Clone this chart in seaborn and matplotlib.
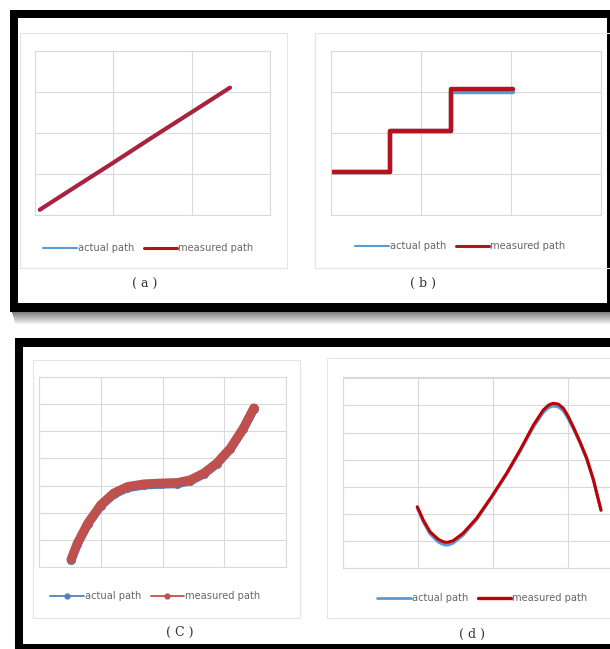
import matplotlib
matplotlib.use("Agg")
import matplotlib.pyplot as plt
from matplotlib.lines import Line2D
from matplotlib.patches import Rectangle
import seaborn as sns

W, H = 610, 649

# (a) straight path
a_x = [0.06, 0.5, 1.0, 1.5, 2.0, 2.49]
a_actual = [0.12, 0.66, 1.27, 1.89, 2.50, 3.10]
a_measured = [0.13, 0.67, 1.28, 1.90, 2.51, 3.11]

# (b) staircase path
b_x = [0.0, 0.66, 0.66, 1.33, 1.33, 2.02]
b_actual = [1.05, 1.05, 2.05, 2.05, 2.99, 2.99]
b_measured = [1.05, 1.05, 2.05, 2.05, 3.07, 3.07]

# (c) cubic-like path
c_x = [-1.48, -1.38, -1.21, -1.00, -0.79, -0.57, -0.30, -0.03, 0.24, 0.45, 0.67, 0.88, 1.10, 1.31, 1.48]
c_actual = [-2.75, -2.16, -1.42, -0.74, -0.32, -0.08, 0.02, 0.05, 0.07, 0.17, 0.43, 0.80, 1.35, 2.09, 2.83]
c_measured = [-2.72, -2.13, -1.39, -0.71, -0.28, -0.04, 0.06, 0.09, 0.11, 0.21, 0.46, 0.83, 1.38, 2.12, 2.86]

# (d) wave path
d_x = [0.99, 1.03, 1.07, 1.16, 1.27, 1.32, 1.36, 1.40, 1.47, 1.60, 1.78, 1.98, 2.18, 2.36,
       2.54, 2.67, 2.74, 2.80, 2.87, 2.94, 3.00, 3.07, 3.16, 3.25, 3.34, 3.39, 3.44]
d_actual = [2.22, 1.97, 1.71, 1.26, 0.96, 0.89, 0.85, 0.85, 0.92, 1.21, 1.78, 2.59, 3.45, 4.30,
            5.21, 5.74, 5.92, 5.98, 5.95, 5.80, 5.53, 5.15, 4.61, 4.01, 3.22, 2.67, 2.12]
d_measured = [2.26, 2.02, 1.77, 1.34, 1.06, 0.99, 0.95, 0.95, 1.01, 1.28, 1.83, 2.63, 3.49, 4.35,
              5.28, 5.83, 6.01, 6.08, 6.05, 5.89, 5.61, 5.21, 4.66, 4.05, 3.25, 2.69, 2.14]

labels = ["actual path", "measured path"]

GRID = "#d9d9d9"
BLUE = "#5b9bd5"
RED = "#b5121b"
C_BLUE = "#4f81bd"
C_RED = "#c0504d"

sns.set_style("white")
plt.rcParams["font.family"] = ["DejaVu Sans"]

fig = plt.figure(figsize=(W / 100, H / 100), dpi=100)
fig.patch.set_facecolor("white")


def px_axes(left, top, right, bottom):
    return fig.add_axes([left / W, 1 - bottom / H, (right - left) / W, (bottom - top) / H])


def px_rect(left, top, right, bottom, **kw):
    fig.patches.append(Rectangle((left / W, 1 - bottom / H), (right - left) / W, (bottom - top) / H,
                                 transform=fig.transFigure, figure=fig, zorder=-10, **kw))


def style_grid(ax, xlim, ylim, xticks, yticks):
    ax.set_xlim(xlim)
    ax.set_ylim(ylim)
    ax.set_xticks(xticks)
    ax.set_yticks(yticks)
    ax.tick_params(length=0, labelbottom=False, labelleft=False)
    ax.grid(True, color=GRID, lw=0.8)
    for s in ax.spines.values():
        s.set_color(GRID)
        s.set_linewidth(0.8)
    ax.set_xlabel("")
    ax.set_ylabel("")
    ax.set_facecolor("none")
    ax.set_axisbelow(True)


def add_legend(ax, handles, x, y):
    ax.legend(handles, labels, loc="center left", bbox_to_anchor=(x / W, 1 - y / H),
              bbox_transform=fig.transFigure, ncol=2, frameon=False, fontsize=7.1,
              handlelength=3.4, handletextpad=0.1, columnspacing=1.0,
              borderpad=0, borderaxespad=0, labelcolor="#666666")


# black frames round the two figure rows, with the shadow under the top one
px_rect(10, 10, 640, 312, facecolor="black", edgecolor="none")
px_rect(18, 18, 607, 303, facecolor="white", edgecolor="none")
for i in range(12):
    g = 0.5 + 0.04 * i
    px_rect(12 + i * 0.3, 312 + i, 640, 313 + i, facecolor=(g, g, g), edgecolor="none")
px_rect(15, 338, 640, 660, facecolor="black", edgecolor="none")
px_rect(23, 347, 640, 644, facecolor="white", edgecolor="none")

# light chart-area borders
for l, t, r, b in [(20, 33, 287, 268), (315, 33, 640, 268), (33, 360, 300, 618), (327, 358, 640, 618)]:
    px_rect(l, t, r, b, facecolor="none", edgecolor="#e4e4e4", lw=0.8)

# (a)
ax = px_axes(35, 51, 270, 215)
sns.lineplot(x=a_x, y=a_actual, ax=ax, color=BLUE, linewidth=2.8, estimator=None, sort=False)
sns.lineplot(x=a_x, y=a_measured, ax=ax, color="#b0203a", linewidth=2.8, estimator=None, sort=False)
style_grid(ax, (0, 3), (0, 4), [0, 1, 2, 3], [0, 1, 2, 3, 4])
add_legend(ax, [Line2D([], [], color=BLUE, lw=1.5), Line2D([], [], color=RED, lw=2.2)], 43, 248)
fig.text(145 / W, 1 - 284 / H, "( a )", ha="center", va="center", fontsize=9,
         family="DejaVu Serif", color="#333333")

# (b)
ax = px_axes(331, 51, 601, 215)
sns.lineplot(x=b_x, y=b_actual, ax=ax, color=BLUE, linewidth=3.2, estimator=None, sort=False)
sns.lineplot(x=b_x, y=b_measured, ax=ax, color=RED, linewidth=3.2, estimator=None, sort=False)
style_grid(ax, (0, 3), (0, 4), [0, 1, 2, 3], [0, 1, 2, 3, 4])
add_legend(ax, [Line2D([], [], color=BLUE, lw=1.5), Line2D([], [], color=RED, lw=2.2)], 355, 246)
fig.text(423 / W, 1 - 283 / H, "( b )", ha="center", va="center", fontsize=9,
         family="DejaVu Serif", color="#333333")

# (c)
ax = px_axes(39, 377, 286, 567)
sns.lineplot(x=c_x, y=c_actual, ax=ax, color=C_BLUE, linewidth=6.5, marker="o", markersize=6.5,
             markeredgewidth=0, estimator=None, sort=False)
sns.lineplot(x=c_x, y=c_measured, ax=ax, color=C_RED, linewidth=6.5, marker="o", markersize=6.5,
             markeredgewidth=0, estimator=None, sort=False)
style_grid(ax, (-2, 2), (-3, 4), [-2, -1, 0, 1, 2], list(range(-3, 5)))
add_legend(ax, [Line2D([], [], color=C_BLUE, lw=1.3, marker="o", markersize=3.5),
                Line2D([], [], color=C_RED, lw=1.3, marker="o", markersize=3.5)], 50, 596)
fig.text(180 / W, 1 - 632 / H, "( C )", ha="center", va="center", fontsize=9,
         family="DejaVu Serif", color="#333333")

# (d)
ax = px_axes(343, 377, 643, 568)
sns.lineplot(x=d_x, y=d_actual, ax=ax, color=BLUE, linewidth=2.2, estimator=None, sort=False)
sns.lineplot(x=d_x, y=d_measured, ax=ax, color="#c00000", linewidth=2.2, estimator=None, sort=False)
style_grid(ax, (0, 4), (0, 7.05), [0, 1, 2, 3, 4], list(range(0, 8)))
add_legend(ax, [Line2D([], [], color=BLUE, lw=2), Line2D([], [], color="#c00000", lw=2.4)], 377, 598)
fig.text(472 / W, 1 - 634 / H, "( d )", ha="center", va="center", fontsize=9,
         family="DejaVu Serif", color="#333333")

fig.savefig("out.png", dpi=100)
